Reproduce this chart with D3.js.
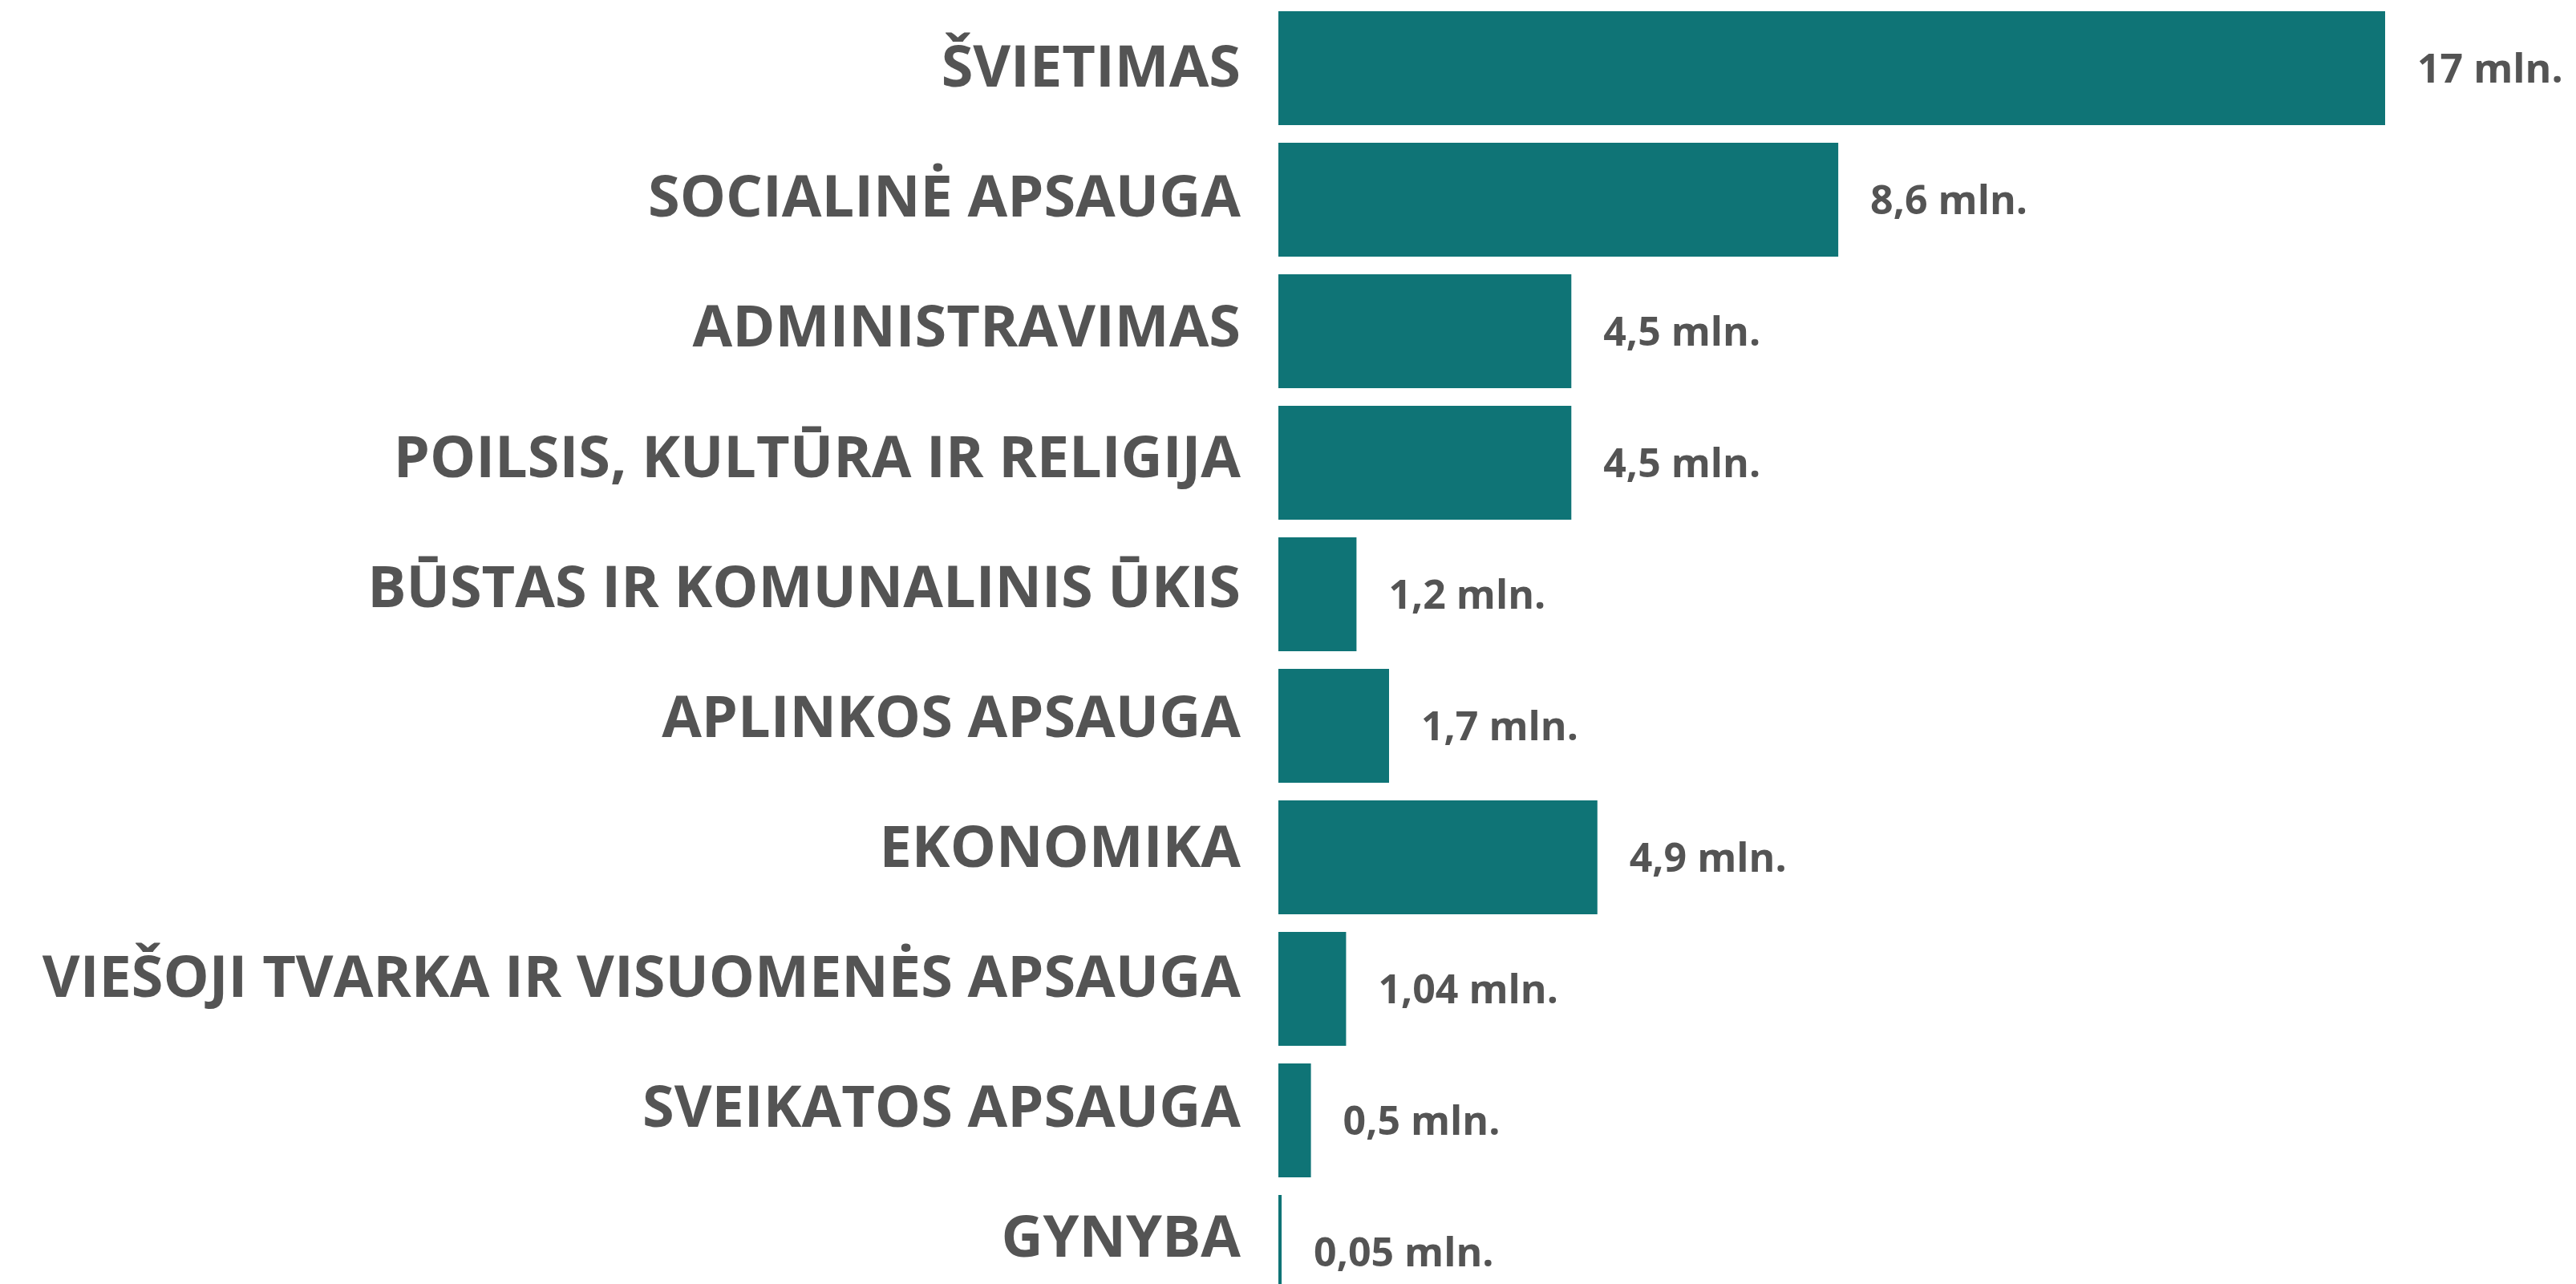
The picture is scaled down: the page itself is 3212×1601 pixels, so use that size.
<!DOCTYPE html>
<html>
<head>
<meta charset="utf-8">
<script src="https://cdn.jsdelivr.net/npm/d3@7"></script>
<style>
    body { margin: 0; background: #fff; }
    .cat-label { font-family: 'Open Sans', sans-serif; font-weight: 700; font-size: 72px; fill: #545454; }
    .val-label { font-family: 'Open Sans', sans-serif; font-weight: 700; font-size: 50px; fill: #545454; }
</style>
</head>
<body>
<div class="canvas"></div>
<script>
const categories = [
    'ŠVIETIMAS',
    'SOCIALINĖ APSAUGA',
    'ADMINISTRAVIMAS',
    'POILSIS, KULTŪRA IR RELIGIJA',
    'BŪSTAS IR KOMUNALINIS ŪKIS',
    'APLINKOS APSAUGA',
    'EKONOMIKA',
    'VIEŠOJI TVARKA IR VISUOMENĖS APSAUGA',
    'SVEIKATOS APSAUGA',
    'GYNYBA'
];
const values = [17, 8.6, 4.5, 4.5, 1.2, 1.7, 4.9, 1.04, 0.5, 0.05];
const unit = 'mln.';

const width = 3212;
const height = 1601;

////////// SVG ///////////////////

const svg = d3.select('.canvas')
    .append('svg')
    .attr('width', width)
    .attr('height', height);

const data = categories.map((c, i) => ({cat: c, val: values[i]}));

////////// SCALES ///////////////////

const x = d3.scaleLinear()
    .domain([0, 17])
    .range([1594, 2974]);

const y = d3.scaleBand()
    .domain(categories)
    .range([3, 1643])
    .paddingInner(22 / 164)
    .paddingOuter(11 / 164);

// category labels sit on a slightly tighter step than the bars
const yLabel = d3.scalePoint()
    .domain(categories)
    .range([83, 1542]);

////////// BARS ///////////////////

svg.selectAll('rect.bar')
    .data(data)
    .enter()
    .append('rect')
    .attr('class', 'bar')
    .attr('x', x(0))
    .attr('y', d => y(d.cat))
    .attr('width', d => Math.max(3, x(d.val) - x(0)))
    .attr('height', y.bandwidth())
    .attr('fill', '#0f7476');

////////// LABELS ///////////////////

svg.selectAll('text.cat-label')
    .data(data)
    .enter()
    .append('text')
    .attr('class', 'cat-label')
    .attr('x', 1547)
    .attr('y', d => yLabel(d.cat))
    .attr('dy', '0.35em')
    .attr('text-anchor', 'end')
    .text(d => d.cat);

svg.selectAll('text.val-label')
    .data(data)
    .enter()
    .append('text')
    .attr('class', 'val-label')
    .attr('x', d => Math.max(x(d.val), x(0) + 3) + 40)
    .attr('y', d => y(d.cat) + y.bandwidth() / 2)
    .attr('dy', '0.35em')
    .text(d => String(d.val).replace('.', ',') + ' ' + unit);
</script>
</body>
</html>
